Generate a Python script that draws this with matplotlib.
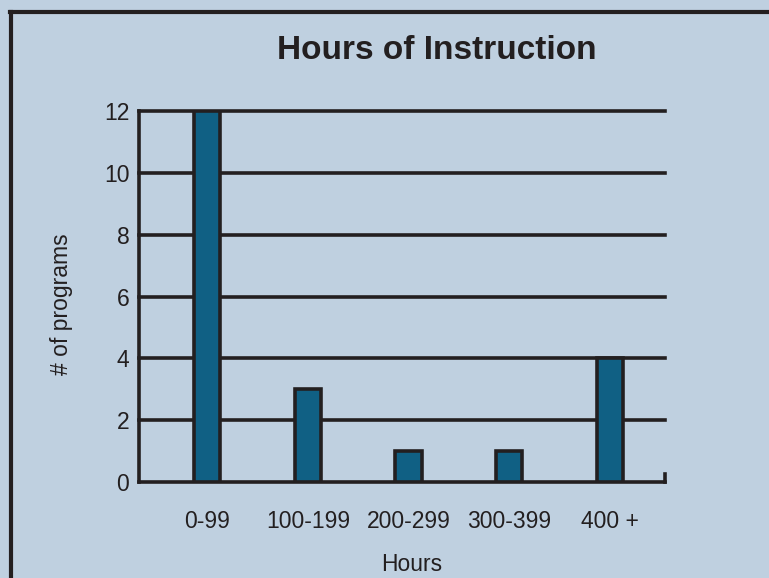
import matplotlib
matplotlib.use("Agg")
import matplotlib.pyplot as plt
from matplotlib.lines import Line2D

categories = ["0-99", "100-199", "200-299", "300-399", "400 +"]
programs = [12, 3, 1, 1, 4]
yticks = [0, 2, 4, 6, 8, 10, 12]

bg = "#bfd0e0"
bar_color = "#106084"
ink = "#231f20"

plt.rcParams['font.family'] = ['Liberation Sans', 'DejaVu Sans']

fig = plt.figure(figsize=(7.69, 5.78), dpi=100, facecolor=bg)
ax = fig.add_axes([0.1808, 0.166, 0.684, 0.642], facecolor=bg)

x = list(range(len(categories)))
ax.set_xlim(-0.68, 4.55)
ax.set_ylim(0, 12)

for t in yticks:
    ax.axhline(t, color=ink, lw=2.6, zorder=1, clip_on=False)

ax.bar(x, programs, width=0.26, color=bar_color, edgecolor=ink, linewidth=2.6, zorder=3)

# small end tick at right end of baseline
ax.plot([1, 1], [0, 0.022], transform=ax.transAxes, color=ink, lw=2.6, clip_on=False, zorder=2)

for s in ["top", "right", "bottom"]:
    ax.spines[s].set_visible(False)
ax.spines["left"].set_color(ink)
ax.spines["left"].set_linewidth(2.6)

ax.set_yticks(yticks)
ax.set_yticklabels([str(t) for t in yticks], fontsize=16.5, color=ink)
ax.set_xticks(x)
ax.set_xticklabels(categories, fontsize=16.5, color=ink)
ax.tick_params(axis="y", length=0, pad=7)
ax.tick_params(axis="x", length=0, pad=20)

fig.text(0.5683, 0.913, "Hours of Instruction", ha="center", va="center",
         fontsize=24, fontweight="bold", color=ink)
fig.text(0.080, 0.474, "# of programs", rotation=90, ha="center", va="center",
         fontsize=16.5, color=ink)
fig.text(0.536, 0.024, "Hours", ha="center", va="center", fontsize=16.5, color=ink)

# outer frame lines (top and left)
fig.add_artist(Line2D([0.0135, 1.0], [0.979, 0.979], transform=fig.transFigure, color=ink, lw=3))
fig.add_artist(Line2D([0.0145, 0.0145], [0.0, 0.979], transform=fig.transFigure, color=ink, lw=3))

fig.savefig("out.png", dpi=100, facecolor=bg)
